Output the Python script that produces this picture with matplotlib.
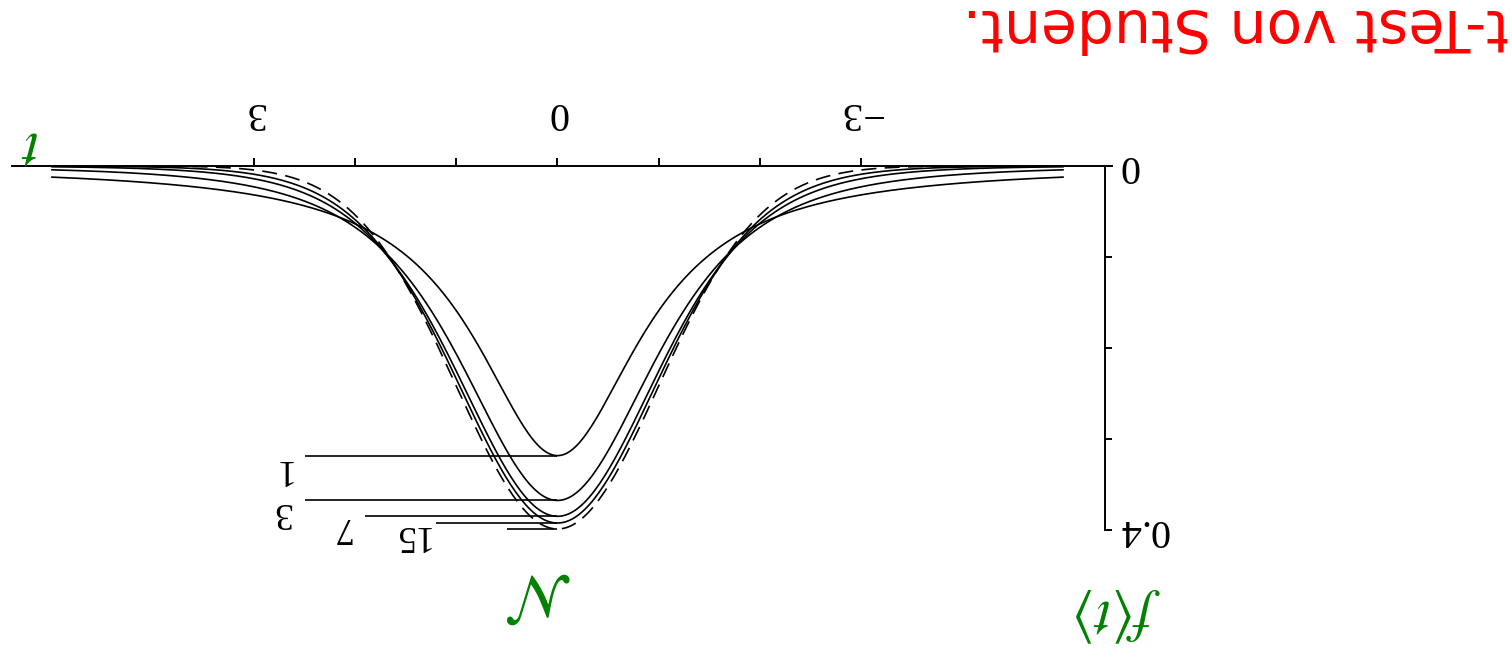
import math
import numpy as np
import matplotlib
matplotlib.use('Agg')
import matplotlib.pyplot as plt

plt.rcParams['mathtext.fontset'] = 'stix'
plt.rcParams['font.family'] = 'Liberation Serif'

# Freiheitsgrade der t-Verteilungen und ihre Beschriftungen
freiheitsgrade = [1, 3, 7, 15]
kurven_labels = ['1', '3', '7', '15']
t_min, t_max = -5.0, 5.0

# Achsen
x_ticks = [-3, -2, -1, 0, 1, 2, 3]
x_ticklabels = ['\u22123', '', '', '0', '', '', '3']
y_ticks = [0, 0.1, 0.2, 0.3, 0.4]
y_ticklabels = ['0', '', '', '', '0.4']

# Hinweislinien am Maximum: Startpunkt in t (letzter Eintrag = Normalverteilung)
linien_start = [2.5, 2.5, 1.9, 1.2, 0.5]
label_t = [2.73, 2.73, 2.14, 1.46]
label_f = [0.333, 0.381, 0.397, 0.406]

titel = 't-Test von Student.'
gruen = '#008000'


def student_pdf(t, n):
    c = math.gamma((n + 1) / 2) / (math.sqrt(n * math.pi) * math.gamma(n / 2))
    return c * (1 + t ** 2 / n) ** (-(n + 1) / 2)


def normal_pdf(t):
    return np.exp(-t ** 2 / 2) / math.sqrt(2 * math.pi)


fig = plt.figure(figsize=(15.12, 6.58), dpi=100)
ax = fig.add_axes([0, 0, 1, 1])
ax.patch.set_alpha(0)

# Bild steht auf dem Kopf: beide Achsen umgedreht
ax.set_xlim(5.514, -9.441)
ax.set_ylim(0.5407, -0.1824)

t = np.linspace(t_min, t_max, 400)
for n in freiheitsgrade:
    ax.plot(t, student_pdf(t, n), color='black', lw=1.2)
ax.plot(t, normal_pdf(t), color='black', lw=1.2, dashes=(9, 5))

# Hinweislinien zu den Maxima
spitzen = [student_pdf(0.0, n) for n in freiheitsgrade] + [normal_pdf(0.0)]
for start, h in zip(linien_start, spitzen):
    ax.hlines(h, 0, start, color='black', lw=1.2)

for lab, tx, fy in zip(kurven_labels, label_t, label_f):
    ax.text(tx, fy, lab, rotation=180, ha='center', va='center', fontsize=27)

ax.text(0.18, 0.466, r'$\mathcal{N}$', rotation=180, ha='center', va='center',
        fontsize=44, color=gruen)
ax.text(5.21, -0.021, r'$t$', rotation=180, ha='center', va='center',
        fontsize=42, color=gruen)
ax.text(-5.54, 0.493, r'$f\langle t\rangle$', rotation=180, ha='center', va='center',
        fontsize=42, color=gruen)

# Achsenlinien
for s in ['left', 'bottom']:
    ax.spines[s].set_visible(False)
ax.spines['top'].set_position(('data', 0))
ax.spines['top'].set_bounds(-5.485, 5.40)
ax.spines['right'].set_position(('data', -5.415))
ax.spines['right'].set_bounds(0, 0.4)
for s in ['top', 'right']:
    ax.spines[s].set_linewidth(1.4)

ax.xaxis.set_ticks_position('top')
ax.yaxis.set_ticks_position('right')
ax.set_xticks(x_ticks)
ax.set_xticklabels(x_ticklabels)
ax.set_yticks(y_ticks)
ax.set_yticklabels(y_ticklabels, va='center')
ax.tick_params(axis='x', direction='out', length=6, width=1.4, labelsize=29,
               pad=19, labelrotation=180)
ax.tick_params(axis='y', direction='out', length=5, width=1.4, labelsize=29,
               pad=5, labelrotation=180)

fig.text(1509 / 1512, 1 - 9 / 658, titel, rotation=180, rotation_mode='anchor',
         ha='left', va='baseline', color='red', fontsize=42, family='DejaVu Sans')

fig.savefig('out.png', dpi=100)
